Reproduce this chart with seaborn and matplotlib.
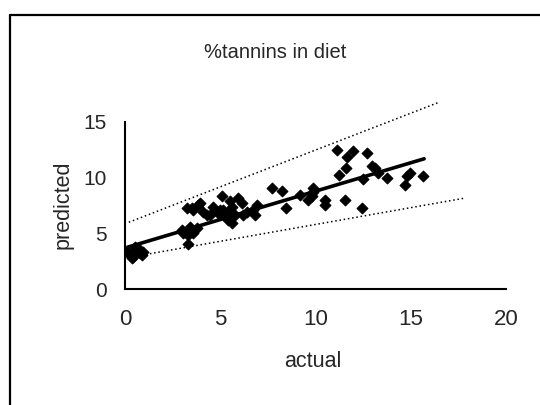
import matplotlib
matplotlib.use("Agg")
import matplotlib.pyplot as plt
from matplotlib.lines import Line2D
import seaborn as sns
import pandas as pd

# scatter points
actual = [0.26, 0.44, 0.61, 0.79, 0.96, 0.35, 0.17, 0.70, 0.87, 0.52, 0.44,
          2.97, 3.15, 3.32, 3.41, 3.59, 3.76, 3.32, 3.06, 3.41,
          3.24, 3.50, 3.59, 3.85, 3.94, 4.11, 4.29, 4.46, 4.64, 4.90, 4.99, 5.07,
          5.16, 5.25, 5.34, 5.42, 5.51, 5.60, 5.60, 5.77, 5.95, 6.12, 6.21, 6.39,
          6.74, 6.82, 6.91,
          7.70, 8.22, 8.43, 9.19, 9.62, 9.80, 9.89, 9.89, 10.50, 10.50,
          11.11, 11.25, 11.55, 11.60, 11.67, 11.99, 12.42, 12.50, 12.72, 12.95,
          13.10, 13.30, 13.77, 14.70, 14.79, 14.96, 15.63]
predicted = [3.08, 3.38, 3.53, 3.23, 3.38, 2.78, 3.38, 3.68, 3.08, 3.83, 2.93,
             5.32, 5.17, 4.87, 5.47, 5.02, 5.47, 4.07, 5.02, 5.61,
             7.26, 7.26, 7.12, 7.56, 7.71, 6.96, 6.67, 6.66, 7.41, 6.82, 7.11, 8.31,
             7.12, 6.52, 6.82, 6.22, 7.86, 7.41, 5.92, 6.67, 8.16, 7.71, 6.67, 6.96,
             7.12, 6.67, 7.56,
             9.06, 8.76, 7.26, 8.46, 8.01, 8.31, 9.06, 8.75, 8.00, 7.56,
             12.49, 10.19, 8.00, 10.85, 11.80, 12.34, 7.30, 9.90, 12.20, 11.00,
             10.90, 10.40, 10.00, 9.35, 10.10, 10.40, 10.16]

# regression line and the two bounds (end points)
fit_x = [0.1, 15.7]
fit_y = [3.75, 11.68]
upper_x = [0.2, 16.5]
upper_y = [6.0, 16.75]
lower_x = [0.2, 17.8]
lower_y = [2.85, 8.15]

x_ticks = [0, 5, 10, 15, 20]
y_ticks = [0, 5, 10, 15]

sns.set_style("white")
plt.rcParams["font.family"] = ["Liberation Sans", "DejaVu Sans"]

fig = plt.figure(figsize=(5.4, 4.05), dpi=100)
ax = fig.add_axes([0.2315, 0.2857, 0.7056, 0.4138])

df = pd.DataFrame({"actual": actual, "predicted": predicted})
sns.scatterplot(data=df, x="actual", y="predicted", marker="D", color="black",
                s=30, edgecolor="black", linewidth=0.8, ax=ax, zorder=3)
sns.lineplot(x=fit_x, y=fit_y, color="black", linewidth=2.6, ax=ax, zorder=4)
sns.lineplot(x=upper_x, y=upper_y, color="black", linewidth=1.1,
             linestyle=(0, (1, 1.8)), ax=ax, clip_on=False)
sns.lineplot(x=lower_x, y=lower_y, color="black", linewidth=1.1,
             linestyle=(0, (1, 1.8)), ax=ax, clip_on=False)

ax.set_xlim(0, 20)
ax.set_ylim(0, 15)
ax.set_xticks(x_ticks)
ax.set_yticks(y_ticks)
ax.set_xlabel("")
ax.set_ylabel("")
sns.despine(ax=ax)
for side in ["left", "bottom"]:
    ax.spines[side].set_color("black")
    ax.spines[side].set_linewidth(1.5)
ax.tick_params(axis="both", direction="out", length=4, width=1.5, color="black")
ax.tick_params(axis="x", labelsize=16, pad=10)
ax.tick_params(axis="y", labelsize=15, pad=9)

fig.text(0.509, 0.870, "%tannins in diet", ha="center", va="center", fontsize=14.5)
fig.text(0.58, 0.108, "actual", ha="center", va="center", fontsize=15.5)
fig.text(0.116, 0.494, "predicted", ha="center", va="center", fontsize=15.5,
         rotation=90)

# partial chart-area frame (left and top edges)
fig.add_artist(Line2D([0.0185, 0.0185], [0, 0.963], color="black", linewidth=1.6,
                      transform=fig.transFigure))
fig.add_artist(Line2D([0.0185, 1], [0.963, 0.963], color="black", linewidth=1.6,
                      transform=fig.transFigure))

fig.savefig("out.png", dpi=100)
